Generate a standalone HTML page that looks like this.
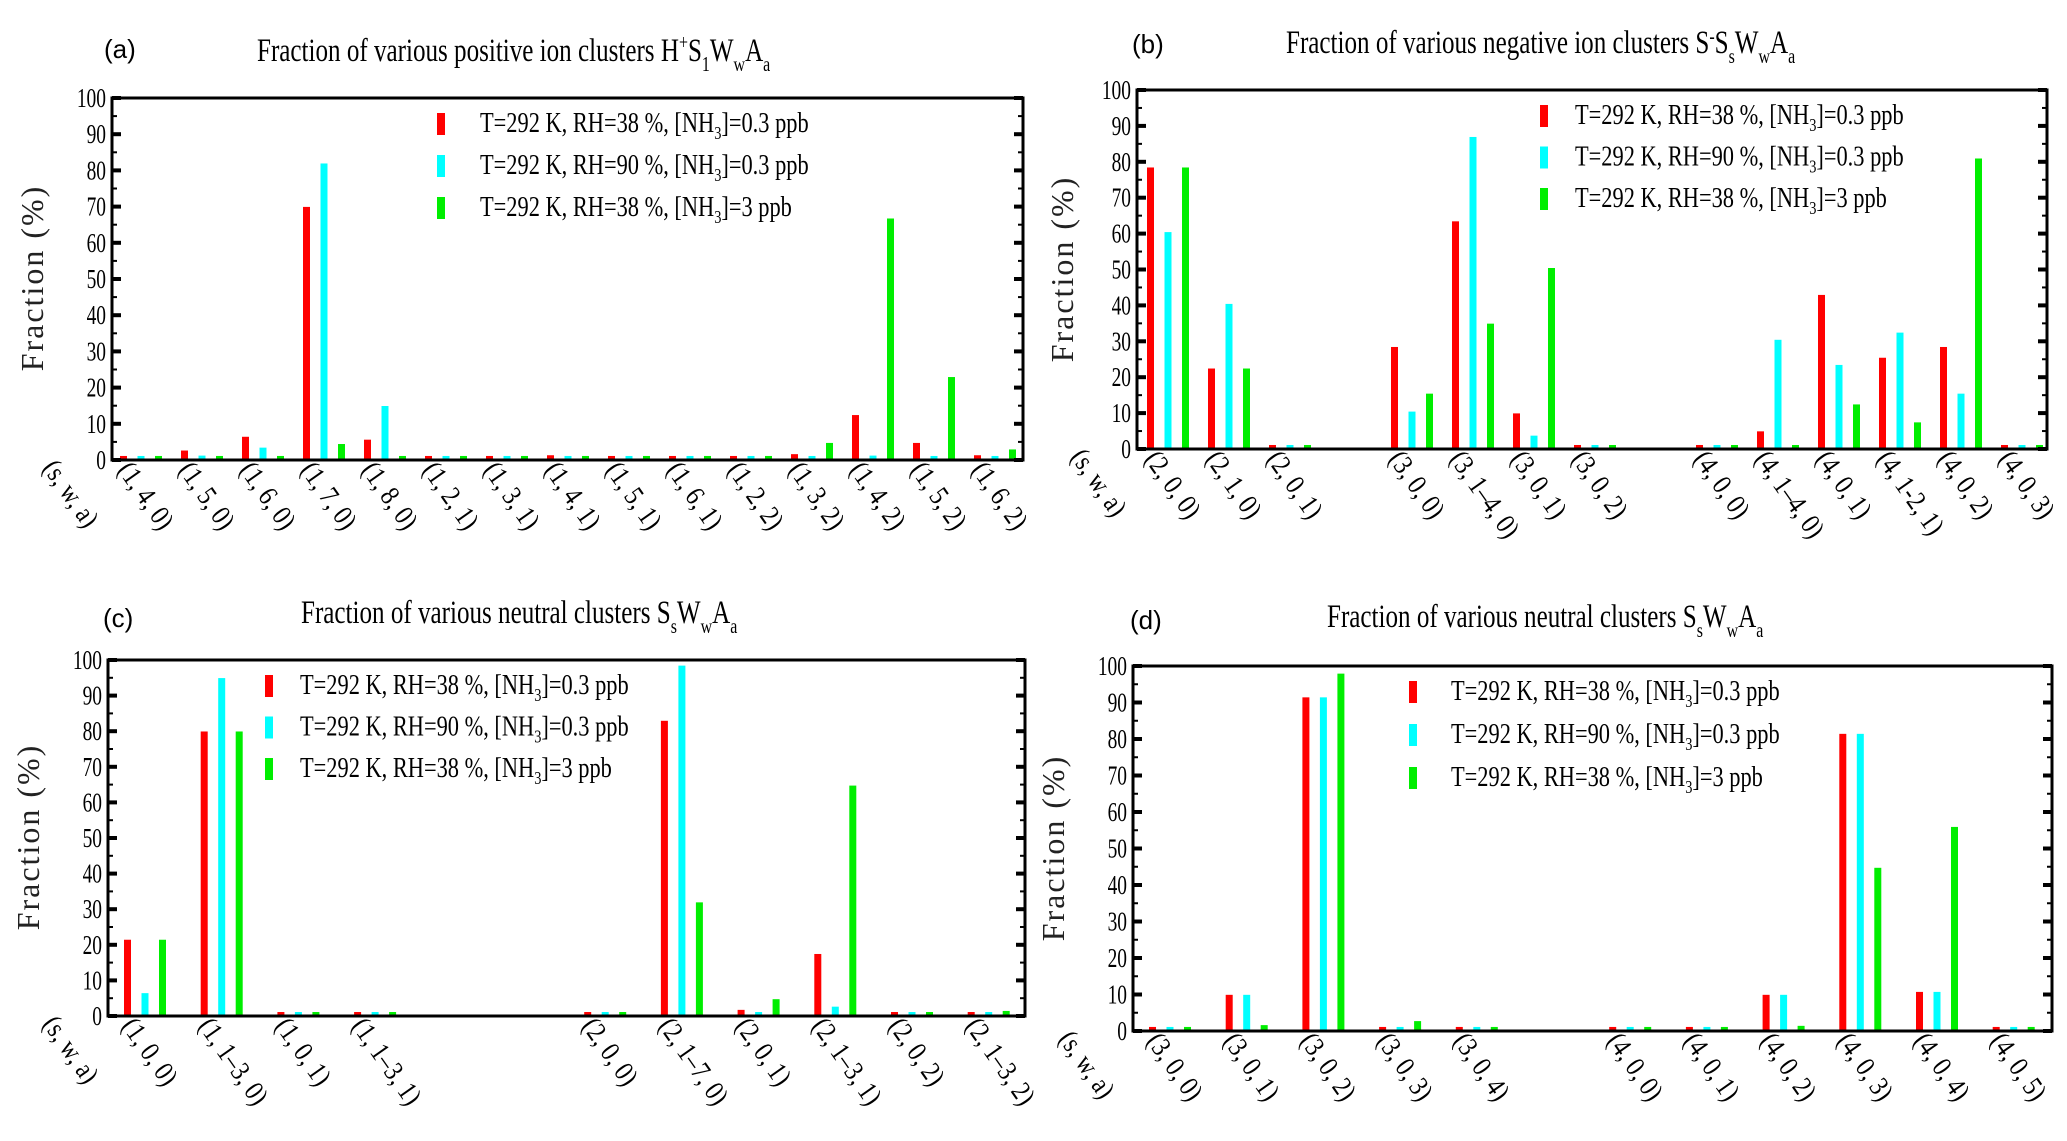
<!DOCTYPE html>
<html><head><meta charset="utf-8"><style>
html,body{margin:0;padding:0;background:#fff;}
svg{display:block;font-family:"Liberation Serif",serif;}
</style></head><body>
<svg id="fig" width="2067" height="1141" viewBox="0 0 2067 1141" xmlns="http://www.w3.org/2000/svg"></svg>
<script>
// ---- Panel (a) data ----
const aCats = ["(1, 4, 0)","(1, 5, 0)","(1, 6, 0)","(1, 7, 0)","(1, 8, 0)","(1, 2, 1)","(1, 3, 1)","(1, 4, 1)","(1, 5, 1)","(1, 6, 1)","(1, 2, 2)","(1, 3, 2)","(1, 4, 2)","(1, 5, 2)","(1, 6, 2)"];
const aSlots = [0,1,2,3,4,5,6,7,8,9,10,11,12,13,14];
const aRed = [0.7,2.2,6,69.5,5.2,0.7,0.7,0.9,0.7,0.7,0.7,1.2,12,4.3,0.9];
const aCyan = [0.7,0.8,3,81.5,14.5,0.7,0.7,0.7,0.7,0.7,0.7,0.7,0.8,0.7,0.7];
const aGreen = [0.7,0.7,0.7,4,0.7,0.7,0.7,0.7,0.7,0.7,0.7,4.3,66.3,22.5,2.5];
// ---- Panel (b) data ----
const bCats = ["(2, 0, 0)","(2, 1, 0)","(2, 0, 1)","(3, 0, 0)","(3, 1–4, 0)","(3, 0, 1)","(3, 0, 2)","(4, 0, 0)","(4, 1–4, 0)","(4, 0, 1)","(4, 1-2, 1)","(4, 0, 2)","(4, 0, 3)"];
const bSlots = [0,1,2,4,5,6,7,9,10,11,12,13,14];
const bRed = [78,22,0.7,28,63,9.5,0.7,0.7,4.5,42.5,25,28,0.7];
const bCyan = [60,40,0.7,10,86.5,3.3,0.7,0.7,30,23,32,15,0.7];
const bGreen = [78,22,0.7,15,34.5,50,0.7,0.7,0.7,12,7,80.5,0.7];
// ---- Panel (c) data ----
const cCats = ["(1, 0, 0)","(1, 1–3, 0)","(1, 0, 1)","(1, 1–3, 1)","(2, 0, 0)","(2, 1–7, 0)","(2, 0, 1)","(2, 1–3, 1)","(2, 0, 2)","(2, 1–3, 2)"];
const cSlots = [0,1,2,3,6,7,8,9,10,11];
const cRed = [21,79.5,0.7,0.7,0.7,82.5,1.3,17,0.7,0.7];
const cCyan = [6,94.5,0.7,0.7,0.7,98,0.7,2.2,0.7,0.7];
const cGreen = [21,79.5,0.7,0.7,0.7,31.5,4.3,64.3,0.7,1];
// ---- Panel (d) data ----
const dCats = ["(3, 0, 0)","(3, 0, 1)","(3, 0, 2)","(3, 0, 3)","(3, 0, 4)","(4, 0, 0)","(4, 0, 1)","(4, 0, 2)","(4, 0, 3)","(4, 0, 4)","(4, 0, 5)"];
const dSlots = [0,1,2,3,4,6,7,8,9,10,11];
const dRed = [0.7,9.5,91,0.7,0.7,0.7,0.7,9.5,81,10.3,0.7];
const dCyan = [0.7,9.5,91,0.7,0.7,0.7,0.7,9.5,81,10.3,0.7];
const dGreen = [0.7,1.2,97.5,2.3,0.7,0.7,0.7,1,44.3,55.5,0.7];
const yTicks = [0,10,20,30,40,50,60,70,80,90,100];
const legendLabels = [["T=292 K, RH=38 %, [NH","3","]=0.3 ppb"],["T=292 K, RH=90 %, [NH","3","]=0.3 ppb"],["T=292 K, RH=38 %, [NH","3","]=3 ppb"]];
const colors = ["#ff0000","#00ffff","#00ee00"];

const NS="http://www.w3.org/2000/svg";
const svg=document.getElementById('fig');
function mk(tag,attrs,parent){const e=document.createElementNS(NS,tag);for(const k in attrs)e.setAttribute(k,attrs[k]);(parent||svg).appendChild(e);return e;}

function panel(p){
  const g=mk('g',{});
  
  
  const L=p.L,R=p.R,T=p.T,B=p.B;
  const y=v=>B-(v/100)*(B-T);
  const x=s=>p.c0+s*p.step;
  const series=[p.red,p.cyan,p.green];
  series.forEach((vals,si)=>{
    vals.forEach((v,i)=>{
      const cx=x(p.slots[i])+(si-1)*17.5;
      const r=mk('rect',{x:cx-3.5,y:y(v)-1.5,width:7,height:B-y(v)+1.5,fill:colors[si]},g);
      
      
    });
  });
  const fr=mk('rect',{x:L,y:T,width:R-L,height:B-T,fill:'none',stroke:'#000','stroke-width':3},g);
  
  
  for(let v=0;v<=100;v+=5){
    const major=v%10===0;const len=major?9:5;const w=major?4:2;
    mk('line',{x1:L,x2:L+len,y1:y(v),y2:y(v),stroke:'#000','stroke-width':w},g);
    mk('line',{x1:R-len,x2:R,y1:y(v),y2:y(v),stroke:'#000','stroke-width':w},g);
  }
  yTicks.forEach(v=>{
    const t=mk('text',{x:0,y:0,'font-size':27,'text-anchor':'end',transform:`translate(${L-6},${y(v)+9}) scale(0.72,1)`},g);
    t.textContent=v;
    
    
  });
  const yt=mk('text',{x:0,y:0,'font-size':32,'text-anchor':'middle','letter-spacing':2,transform:`translate(${p.yx+11},${p.yy}) rotate(-90)`,fill:'#222'},g);
  yt.textContent='Fraction (%)';
  
  
  const lbl=(txt,lx,ly,name)=>{
    const t=mk('text',{x:0,y:0,'font-size':28,transform:`translate(${lx},${ly}) rotate(55) scale(0.85,1)`},g);
    t.textContent=txt;
    
    
  };
  lbl('(s, w, a)',p.swx,B+8,'x-axis-title');
  p.cats.forEach((c,i)=>lbl(c,x(p.slots[i])-24,B+10,'x-tick-label'));
  legendLabels.forEach((parts,i)=>{
    const ly=p.legY+i*p.legDy;
    const m=mk('rect',{x:p.legX,y:ly-11,width:8,height:22,fill:colors[i]},g);
    
    
    const t=mk('text',{x:0,y:0,'font-size':28,transform:`translate(${p.legTx},${ly+8}) scale(0.8,1)`},g);
    
    
    const a=mk('tspan',{},t);a.textContent=parts[0];
    const b=mk('tspan',{dy:7,'font-size':18},t);b.textContent=parts[1];
    const c=mk('tspan',{dy:-7},t);c.textContent=parts[2];
  });
  const pl=mk('text',{x:p.lx,y:p.ly,'font-size':26,'font-family':'Liberation Sans, sans-serif'},g);
  pl.textContent='('+p.id+')';
  
  
  const tt=mk('text',{x:0,y:0,'font-size':33,transform:`translate(${p.tx},${p.ty}) scale(0.76,1)`},g);
  
  
  p.title.forEach(([s,dy,fs])=>{const ts=mk('tspan',{dy:dy,'font-size':fs},tt);ts.textContent=s;});
}

const neutralTitle=[["Fraction of various neutral clusters S",0,33],["s",10,21],["W",-10,33],["w",10,21],["A",-10,33],["a",10,21]];
panel({id:'a',L:112,R:1023,T:98,B:460,c0:141,step:61,slots:aSlots,cats:aCats,red:aRed,cyan:aCyan,green:aGreen,
  yx:32,yy:278,swx:42,legX:437,legY:124,legDy:42,legTx:480,lx:104,ly:58,tx:257,ty:61,
  title:[["Fraction of various positive ion clusters H",0,33],["+",-12,21],["S",12,33],["1",10,21],["W",-10,33],["w",10,21],["A",-10,33],["a",10,21]]});
panel({id:'b',L:1137,R:2047,T:90,B:449,c0:1168,step:61,slots:bSlots,cats:bCats,red:bRed,cyan:bCyan,green:bGreen,
  yx:1062,yy:269,swx:1070,legX:1540,legY:116,legDy:41.5,legTx:1575,lx:1132,ly:53,tx:1286,ty:53,
  title:[["Fraction of various negative ion clusters S",0,33],["-",-10,21],["S",10,33],["s",10,21],["W",-10,33],["w",10,21],["A",-10,33],["a",10,21]]});
panel({id:'c',L:108,R:1025,T:660,B:1016,c0:145,step:76.7,slots:cSlots,cats:cCats,red:cRed,cyan:cCyan,green:cGreen,
  yx:28,yy:837,swx:42,legX:265,legY:686,legDy:41.5,legTx:300,lx:103,ly:627,tx:301,ty:623,
  title:neutralTitle});
panel({id:'d',L:1133,R:2052,T:666,B:1031,c0:1170,step:76.7,slots:dSlots,cats:dCats,red:dRed,cyan:dCyan,green:dGreen,
  yx:1053,yy:848,swx:1058,legX:1409,legY:692,legDy:43,legTx:1451,lx:1130,ly:629,tx:1327,ty:627,
  title:neutralTitle});
</script>
</body></html>
